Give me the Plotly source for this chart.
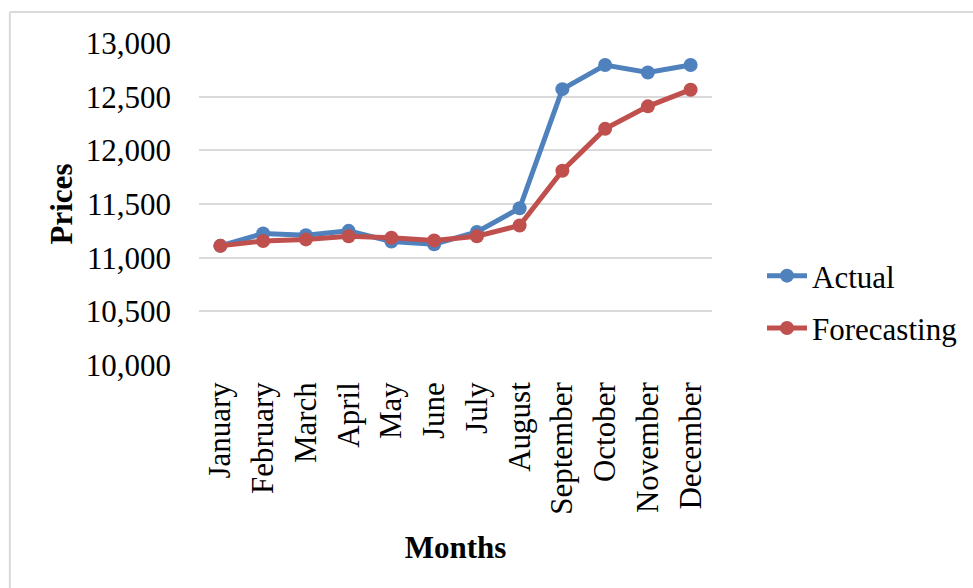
import plotly.graph_objects as go

months = ["January", "February", "March", "April", "May", "June", "July",
          "August", "September", "October", "November", "December"]
actual = [11110, 11225, 11210, 11250, 11150, 11125, 11240, 11460,
          12570, 12795, 12725, 12795]
forecasting = [11110, 11155, 11170, 11200, 11185, 11160, 11200, 11300,
               11810, 12200, 12410, 12565]
y_ticks = [10000, 10500, 11000, 11500, 12000, 12500, 13000]

W, H = 973, 588
L, R, T, B = 199, 260, 43, 223
plot_w = W - L - R
plot_h = H - T - B

FONT = "Liberation Serif"
FS = 31
BLUE = "#4F81BD"
RED = "#C0504D"
GRID = "#D9D9D9"


def px_x(px):
    return (px - L) / plot_w


def px_y(py):
    return (H - B - py) / plot_h


fig = go.Figure()
fig.add_trace(go.Scatter(
    x=months, y=actual, name="Actual", mode="lines+markers",
    legendgroup="a",
    line=dict(color=BLUE, width=5), marker=dict(color=BLUE, size=14),
))
fig.add_trace(go.Scatter(
    x=months, y=forecasting, name="Forecasting", mode="lines+markers",
    legendgroup="f",
    line=dict(color=RED, width=5), marker=dict(color=RED, size=14),
))

# chart frame: top and left edges
frame = dict(type="line", xref="paper", yref="paper",
             line=dict(color=GRID, width=2), layer="below")
fig.add_shape(x0=px_x(9.5), x1=px_x(W + 5), y0=px_y(12), y1=px_y(12), **frame)
fig.add_shape(x0=px_x(9.5), x1=px_x(9.5), y0=px_y(12), y1=px_y(H + 5), **frame)

fig.update_layout(
    width=W, height=H,
    margin=dict(l=L, r=R, t=T, b=B, pad=0),
    paper_bgcolor="white", plot_bgcolor="white",
    font=dict(family=FONT, size=FS, color="black"),
    showlegend=True,
    legend=dict(
        x=px_x(762), y=px_y(249), xanchor="left", yanchor="top",
        font=dict(family=FONT, size=FS), tracegroupgap=9,
        traceorder="grouped",
        itemwidth=40, bgcolor="rgba(0,0,0,0)",
    ),
    xaxis=dict(
        type="category", range=[-0.5, 11.5], tickangle=-90,
        showgrid=False, showline=False, zeroline=False, ticks="",
        ticklabelstandoff=10,
        tickfont=dict(family=FONT, size=FS),
        title=dict(text="<b>Months</b>", font=dict(family=FONT, size=FS),
                   standoff=22),
    ),
    yaxis=dict(
        range=[10000, 13000], tickvals=y_ticks,
        ticktext=[f"{v:,}" for v in y_ticks],
        showgrid=True, gridcolor=GRID, gridwidth=2,
        showline=False, zeroline=False, ticks="",
        ticklabelstandoff=27,
        tickfont=dict(family=FONT, size=FS),
        title=dict(text="<b>Prices</b>", font=dict(family=FONT, size=FS),
                   standoff=3),
    ),
)

fig.write_html("out.html")
